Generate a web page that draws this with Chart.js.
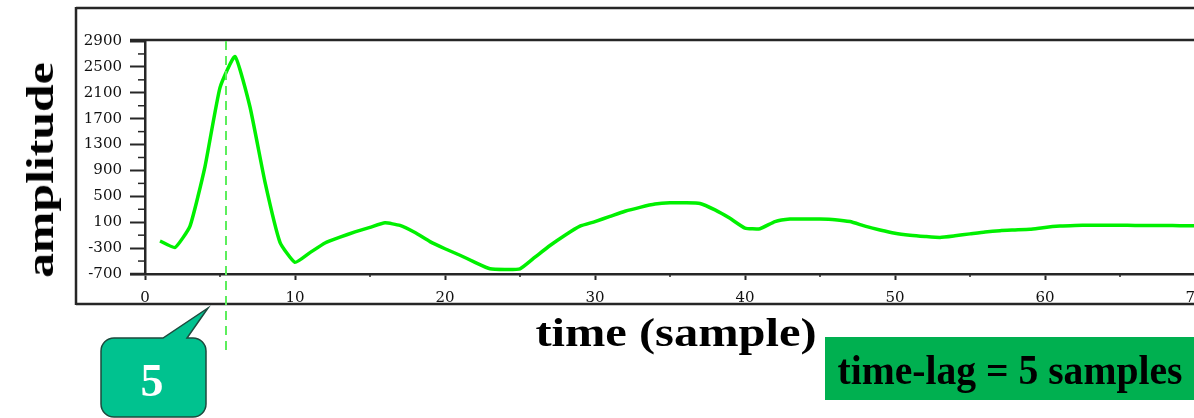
<!DOCTYPE html>
<html>
<head>
<meta charset="utf-8">
<script src="https://cdn.jsdelivr.net/npm/chart.js@4.4.1/dist/chart.umd.min.js"></script>
<style>
  html, body { margin: 0; padding: 0; background: #fff; overflow: hidden; }
  #wrap { position: relative; width: 1194px; height: 418px; overflow: hidden; }
  #myChart { position: absolute; left: 0; top: 0; }
  .lbl {
    position: absolute;
    font-family: "Liberation Serif", "Times New Roman", serif;
    font-weight: bold;
    line-height: 1;
    white-space: nowrap;
    color: #000;
  }
</style>
</head>
<body>
<div id="wrap">
  <canvas id="myChart" width="1220" height="418"></canvas>
  <div class="lbl" id="ytitle" data-w="216" data-rot="1" style="left:40px; top:170px; font-size:38px;">amplitude</div>
  <div class="lbl" id="xtitle" data-w="281" style="left:676px; top:333px; font-size:40px;">time (sample)</div>
  <div class="lbl" id="lagtext" data-w="345" style="left:1010px; top:370px; font-size:42px;">time-lag = 5 samples</div>
  <div class="lbl" id="calloutText" style="left:152px; top:381px; font-size:46px; color:#fff;">5</div>
</div>
<script>
// sample index and amplitude
const samples = [
   1,  2,  3,  4,  5,  6,  7,  8,  9, 10,
  11, 12, 13, 14, 15, 16, 17, 18, 19, 20,
  21, 22, 23, 24, 25, 26, 27, 28, 29, 30,
  31, 32, 33, 34, 35, 36, 37, 38, 39, 40,
  41, 42, 43, 44, 45, 46, 47, 48, 49, 50,
  51, 52, 53, 54, 55, 56, 57, 58, 59, 60,
  61, 62, 63, 64, 65, 66, 67, 68, 69, 70
];
const amplitude = [
  -190, -290,   40,  960, 2180, 2660, 1880,  720, -210, -520,
  -370, -220, -130,  -50,   20,   90,   50,  -60, -200, -310,
  -410, -520, -620, -630, -620, -440, -260, -100,   40,  110,
   190,  270,  330,  380,  400,  400,  390,  290,  160,   10,
     0,  110,  150,  150,  150,  140,  110,   40,  -20,  -70,
  -100, -120, -135, -110,  -80,  -50,  -30,  -20,  -10,   20,
    40,   50,   55,   55,   55,   50,   50,   50,   45,   45
];
const xTicks = [0, 10, 20, 30, 40, 50, 60, 70];
const xMinor = [5, 15, 25, 35, 45, 55, 65];
const yTicks = [-700, -300, 100, 500, 900, 1300, 1700, 2100, 2500, 2900];
const yMinor = [-500, -100, 300, 700, 1100, 1500, 1900, 2300, 2700];
const lagMarker = 5.4;

const ink = '#262626';

function seg(ctx, x1, y1, x2, y2) {
    ctx.beginPath();
    ctx.moveTo(x1, y1);
    ctx.lineTo(x2, y2);
    ctx.stroke();
}

const decorations = {
    id: 'decorations',
    afterDraw(chart) {
        const ctx = chart.ctx;
        const x = chart.scales.x;
        const y = chart.scales.y;
        const area = chart.chartArea;
        ctx.save();

        // minor ticks
        ctx.strokeStyle = ink;
        ctx.lineWidth = 1.5;
        yMinor.forEach(v => {
            const py = y.getPixelForValue(v);
            seg(ctx, area.left - 7, py, area.left, py);
        });
        xMinor.forEach(v => {
            const px = x.getPixelForValue(v);
            seg(ctx, px, area.bottom, px, area.bottom + 3);
        });

        // frames
        ctx.lineWidth = 2.5;
        seg(ctx, 76, 8, 1220, 8);
        seg(ctx, 76, 7, 76, 305);
        seg(ctx, 76, 304, 1220, 304);
        seg(ctx, 130, area.top - 1, 1220, area.top - 1);
        seg(ctx, 130, area.bottom, area.left, area.bottom);

        // time-lag marker
        const lx = x.getPixelForValue(lagMarker);
        ctx.strokeStyle = '#5cee5c';
        ctx.lineWidth = 2;
        ctx.setLineDash([9, 6]);
        seg(ctx, lx, area.top, lx, 350);
        ctx.setLineDash([]);

        // callout bubble
        const bx = 101, by = 338, bw = 105, bh = 79, r = 13;
        ctx.beginPath();
        ctx.moveTo(bx + r, by);
        ctx.lineTo(163, by);
        ctx.lineTo(208, 308);
        ctx.lineTo(187, by);
        ctx.lineTo(bx + bw - r, by);
        ctx.arcTo(bx + bw, by, bx + bw, by + r, r);
        ctx.lineTo(bx + bw, by + bh - r);
        ctx.arcTo(bx + bw, by + bh, bx + bw - r, by + bh, r);
        ctx.lineTo(bx + r, by + bh);
        ctx.arcTo(bx, by + bh, bx, by + bh - r, r);
        ctx.lineTo(bx, by + r);
        ctx.arcTo(bx, by, bx + r, by, r);
        ctx.closePath();
        ctx.fillStyle = '#00c28f';
        ctx.fill();
        ctx.strokeStyle = '#1d4a3e';
        ctx.lineWidth = 1.5;
        ctx.stroke();

        // result box
        ctx.fillStyle = '#00b050';
        ctx.fillRect(825, 337, 400, 63);

        ctx.restore();
    }
};

const ctx = document.getElementById('myChart');
new Chart(ctx, {
    type: 'line',
    data: {
        datasets: [{
            data: samples.map((s, i) => ({ x: s, y: amplitude[i] })),
            borderColor: '#00f000',
            borderWidth: 3.5,
            pointRadius: 0,
            tension: 0.15
        }]
    },
    options: {
        responsive: false,
        animation: false,
        layout: { padding: { left: 0, top: 41, right: 25, bottom: 0 } },
        plugins: { legend: { display: false }, tooltip: { enabled: false } },
        scales: {
            x: {
                type: 'linear',
                min: 0,
                max: 70,
                afterFit: s => { s.height = 144; },
                afterBuildTicks: s => { s.ticks = xTicks.map(v => ({ value: v })); },
                grid: { drawOnChartArea: false, tickLength: 6, tickColor: ink, tickWidth: 2 },
                border: { color: ink, width: 2.5 },
                ticks: {
                    font: { family: 'DejaVu Serif', size: 15 },
                    color: '#111',
                    padding: 9,
                    maxRotation: 0,
                    autoSkip: false,
                    callback: v => String(v)
                }
            },
            y: {
                min: -700,
                max: 2900,
                afterFit: s => { s.width = 145; },
                afterBuildTicks: s => { s.ticks = yTicks.map(v => ({ value: v })); },
                grid: { drawOnChartArea: false, tickLength: 15, tickColor: ink, tickWidth: 2 },
                border: { color: ink, width: 2.5 },
                ticks: {
                    font: { family: 'DejaVu Serif', size: 15 },
                    color: '#111',
                    padding: 8,
                    autoSkip: false,
                    callback: v => String(v)
                }
            }
        }
    },
    plugins: [decorations]
});

// stretch the titles to the widths seen in the picture
document.querySelectorAll('.lbl').forEach(el => {
    const target = parseFloat(el.dataset.w || 0);
    const sx = target ? target / el.offsetWidth : 1;
    const rot = el.dataset.rot ? ' rotate(-90deg)' : '';
    el.style.transform = 'translate(-50%, -50%)' + rot + ' scaleX(' + sx.toFixed(3) + ')';
});
</script>
</body>
</html>
